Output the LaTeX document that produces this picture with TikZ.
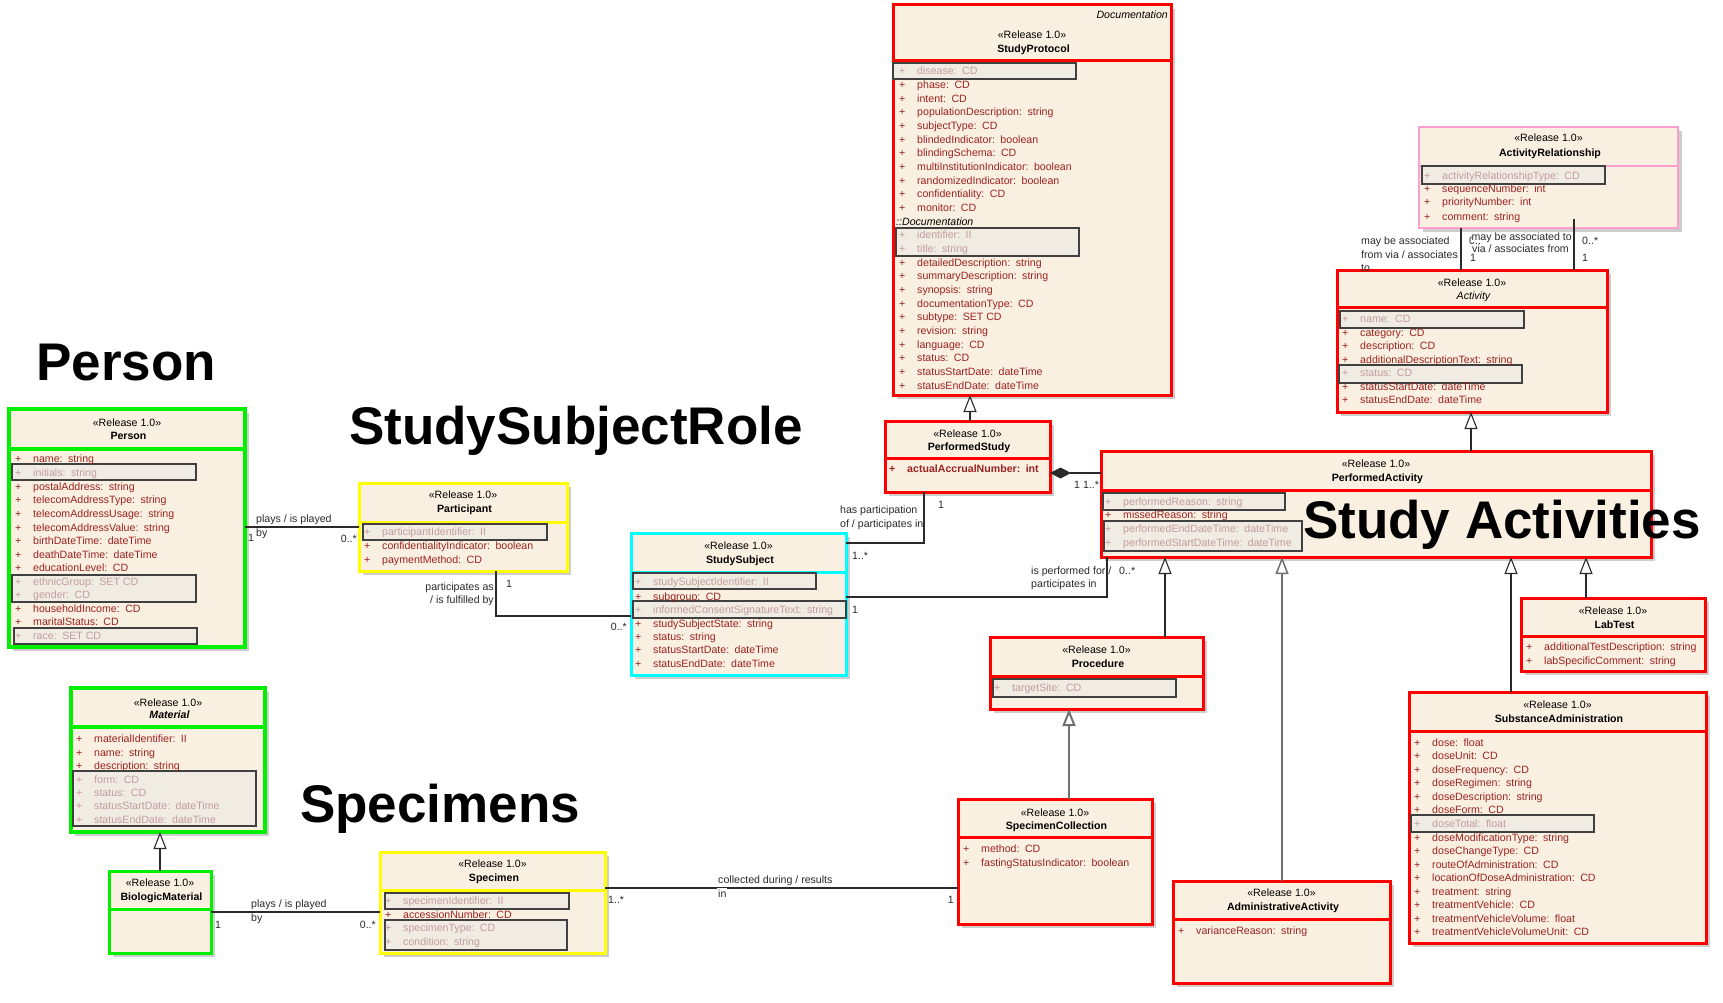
\documentclass[tikz,border=0pt]{standalone}
\usepackage{fontspec}
\setmainfont{Liberation Sans}
\usetikzlibrary{arrows.meta}
\definecolor{beige}{HTML}{FAF0E1}
\definecolor{shadowc}{HTML}{CDCDCD}
\definecolor{greybox}{HTML}{F0ECE3}
\definecolor{gboxline}{HTML}{404040}
\definecolor{attrred}{HTML}{9C2222}
\definecolor{attrgrey}{HTML}{C49C9C}
\definecolor{umlred}{HTML}{FF0000}
\definecolor{umlgreen}{HTML}{00F000}
\definecolor{umlyellow}{HTML}{FFFF00}
\definecolor{umlcyan}{HTML}{00FFFF}
\definecolor{umlpink}{HTML}{FF9FCF}
\definecolor{lnc}{HTML}{2A2A2A}
\definecolor{lng}{HTML}{707070}
\newcounter{nn}
\newcommand\fs{\fontsize{10.6}{12}\selectfont}
\tikzset{
  hdr/.style={font=\fs, inner sep=0pt, anchor=base, text=black},
  attr/.style={font=\fs, text=attrred, inner sep=0pt, anchor=base west},
  gattr/.style={attr, text=attrgrey},
  lbl/.style={font=\fs, inner sep=0pt, anchor=base west, text=lnc},
  lble/.style={lbl, anchor=base east},
  conn/.style={draw=lnc, line width=1.1pt},
  gen/.style={conn, -{Triangle[length=17pt,width=13pt,fill=white]}},
  big/.style={font=\fontsize{53}{60}\selectfont\bfseries, inner sep=0pt, anchor=base west, text=black},
  gbox/.style={draw=gboxline, fill=greybox, line width=1.2pt},
}
% name, x1, y1, x2, y2, separator y, colour, line width
\newcommand\uclass[8]{%
  \fill[shadowc] ({#2+4},{#3+4}) rectangle ({#4+4},{#5+4});
  \node[draw=#7, line width=#8, fill=beige, inner sep=0pt, outer sep=0pt,
        minimum width={(#4)-(#2)}, minimum height={(#5)-(#3)}, anchor=north west] (#1) at (#2,#3) {};
  \draw[#7, line width=#8] (#2,#6) -- (#4,#6);}
% centre x, stereotype y, name y, name, font switch
\newcommand\uhead[5]{%
  \stepcounter{nn}\node[hdr] (n\arabic{nn}) at (#1,{#2+4}) {«Release 1.0»};
  \stepcounter{nn}\node[hdr] (n\arabic{nn}) at (#1,{#3+4}) {#5 #4};}
\newcommand\ua[4]{%
  \stepcounter{nn}\node[attr] (n\arabic{nn}) at ({#1-18},{#2+4}) {+};
  \stepcounter{nn}\node[attr] (n\arabic{nn}) at (#1,{#2+4}) {#3:\hspace{5.5pt}#4};}
\newcommand\ug[4]{%
  \stepcounter{nn}\node[gattr] (n\arabic{nn}) at ({#1-18},{#2+4}) {+};
  \stepcounter{nn}\node[gattr] (n\arabic{nn}) at (#1,{#2+4}) {#3:\hspace{5.5pt}#4};}
\newcommand\gb[4]{\draw[gbox] (#1,#2) rectangle (#3,#4);}
\begin{document}
\begin{tikzpicture}[x=1pt,y=-1pt]
\fill[white] (0,0) rectangle (1723,1003);
\useasboundingbox (0,0) rectangle (1723,1003);

% ---------------- StudyProtocol
\uclass{sp}{893}{5}{1171}{395}{61}{umlred}{3pt}
\node[hdr, anchor=base east] (docl) at (1168,19) {\itshape Documentation};
\uhead{1032}{35}{49}{StudyProtocol}{\bfseries}
\gb{893}{63}{1076}{79}
\ug{917}{71}{disease}{CD}
\ua{917}{84.7}{phase}{CD}
\ua{917}{98.3}{intent}{CD}
\ua{917}{112}{populationDescription}{string}
\ua{917}{125.6}{subjectType}{CD}
\ua{917}{139.3}{blindedIndicator}{boolean}
\ua{917}{152.9}{blindingSchema}{CD}
\ua{917}{166.6}{multiInstitutionIndicator}{boolean}
\ua{917}{180.2}{randomizedIndicator}{boolean}
\ua{917}{193.9}{confidentiality}{CD}
\ua{917}{207.5}{monitor}{CD}
\node[hdr, anchor=base west] (docsep) at (896,225.2) {\itshape ::Documentation};
\gb{896}{228}{1079}{256}
\ug{917}{234.8}{identifier}{II}
\ug{917}{248.5}{title}{string}
\ua{917}{262.1}{detailedDescription}{string}
\ua{917}{275.8}{summaryDescription}{string}
\ua{917}{289.4}{synopsis}{string}
\ua{917}{303.1}{documentationType}{CD}
\ua{917}{316.7}{subtype}{SET CD}
\ua{917}{330.4}{revision}{string}
\ua{917}{344}{language}{CD}
\ua{917}{357.7}{status}{CD}
\ua{917}{371.3}{statusStartDate}{dateTime}
\ua{917}{385}{statusEndDate}{dateTime}

% ---------------- ActivityRelationship
\uclass{ar}{1419}{127}{1678}{228}{166}{umlpink}{1.2pt}
\uhead{1548.5}{138}{153}{ActivityRelationship}{\bfseries}
\gb{1422}{166}{1605}{184}
\ug{1442}{175}{activityRelationshipType}{CD}
\ua{1442}{189}{sequenceNumber}{int}
\ua{1442}{202}{priorityNumber}{int}
\ua{1442}{216}{comment}{string}

% ---------------- Activity
\uclass{act}{1337}{270}{1607}{412}{307}{umlred}{3pt}
\uhead{1472}{282}{295}{Activity}{\itshape}
\gb{1340}{311}{1524}{328}
\gb{1339}{365}{1522}{383}
\ug{1360}{318}{name}{CD}
\ua{1360}{332}{category}{CD}
\ua{1360}{345}{description}{CD}
\ua{1360}{359}{additionalDescriptionText}{string}
\ug{1360}{372}{status}{CD}
\ua{1360}{386}{statusStartDate}{dateTime}
\ua{1360}{399}{statusEndDate}{dateTime}

% ---------------- Person
\uclass{per}{9}{409}{245}{647}{449}{umlgreen}{4pt}
\uhead{127}{422}{435}{Person}{\bfseries}
\gb{12}{464}{196}{480}
\gb{12}{575}{196}{602}
\gb{14}{628}{197}{644}
\ua{33}{458}{name}{string}
\ug{33}{472}{initials}{string}
\ua{33}{486}{postalAddress}{string}
\ua{33}{499}{telecomAddressType}{string}
\ua{33}{513}{telecomAddressUsage}{string}
\ua{33}{527}{telecomAddressValue}{string}
\ua{33}{540}{birthDateTime}{dateTime}
\ua{33}{554}{deathDateTime}{dateTime}
\ua{33}{567}{educationLevel}{CD}
\ug{33}{581}{ethnicGroup}{SET CD}
\ug{33}{594}{gender}{CD}
\ua{33}{608}{householdIncome}{CD}
\ua{33}{621}{maritalStatus}{CD}
\ug{33}{635}{race}{SET CD}

% ---------------- Participant
\uclass{par}{359}{483}{567}{571}{522}{umlyellow}{3pt}
\uhead{463}{494}{508}{Participant}{\bfseries}
\gb{363}{524}{547}{540}
\ug{382}{531}{participantIdentifier}{II}
\ua{382}{545}{confidentialityIndicator}{boolean}
\ua{382}{559}{paymentMethod}{CD}

% ---------------- StudySubject
\uclass{ss}{631}{533}{846}{675}{572}{umlcyan}{3pt}
\uhead{738.5}{545}{559}{StudySubject}{\bfseries}
\gb{633}{573}{816}{589}
\gb{633}{601}{846}{618}
\ug{653}{581}{studySubjectIdentifier}{II}
\ua{653}{596}{subgroup}{CD}
\ug{653}{609}{informedConsentSignatureText}{string}
\ua{653}{623}{studySubjectState}{string}
\ua{653}{636}{status}{string}
\ua{653}{649}{statusStartDate}{dateTime}
\ua{653}{663}{statusEndDate}{dateTime}

% ---------------- PerformedStudy
\uclass{ps}{885}{421}{1050}{492}{458}{umlred}{3pt}
\uhead{967.5}{433}{446}{PerformedStudy}{\bfseries}
\node[attr, font=\fs\bfseries] (psp) at (889,472) {+};
\node[attr, font=\fs\bfseries] (psa) at (907,472) {actualAccrualNumber:\hspace{5.5pt}int};

% ---------------- PerformedActivity
\uclass{pa}{1101}{451}{1651}{557}{490}{umlred}{3pt}
\uhead{1376}{463}{477}{PerformedActivity}{\bfseries}
\gb{1103}{493}{1285}{510}
\gb{1104}{521}{1302}{551}
\ug{1123}{501}{performedReason}{string}
\ua{1123}{514}{missedReason}{string}
\ug{1123}{528}{performedEndDateTime}{dateTime}
\ug{1123}{542}{performedStartDateTime}{dateTime}

% ---------------- Material
\uclass{mat}{71}{688}{265}{832}{727}{umlgreen}{4pt}
\uhead{168}{702}{714}{Material}{\bfseries\itshape}
\gb{73}{771}{256}{826}
\ua{94}{738}{materialIdentifier}{II}
\ua{94}{752}{name}{string}
\ua{94}{765}{description}{string}
\ug{94}{779}{form}{CD}
\ug{94}{792}{status}{CD}
\ug{94}{805}{statusStartDate}{dateTime}
\ug{94}{819}{statusEndDate}{dateTime}

% ---------------- BiologicMaterial
\uclass{bio}{109}{871}{211}{953}{909}{umlgreen}{3pt}
\uhead{160}{882}{896}{BiologicMaterial}{\bfseries}

% ---------------- Specimen
\uclass{spe}{380}{852}{605}{953}{890}{umlyellow}{3pt}
\uhead{492.5}{863}{877}{Specimen}{\bfseries}
\gb{385}{893}{569}{909}
\gb{385}{920}{567}{950}
\ug{403}{900}{specimenIdentifier}{II}
\ua{403}{914}{accessionNumber}{CD}
\ug{403}{927}{specimenType}{CD}
\ug{403}{941}{condition}{string}

% ---------------- SpecimenCollection
\uclass{sc}{958}{799}{1152}{924}{837}{umlred}{3pt}
\uhead{1055}{812}{825}{SpecimenCollection}{\bfseries}
\ua{981}{848}{method}{CD}
\ua{981}{862}{fastingStatusIndicator}{boolean}

% ---------------- Procedure
\uclass{pro}{990}{637}{1203}{709}{676}{umlred}{3pt}
\uhead{1096.5}{649}{663}{Procedure}{\bfseries}
\gb{993}{679}{1176}{697}
\ug{1012}{687}{targetSite}{CD}

% ---------------- AdministrativeActivity
\uclass{aa}{1173}{881}{1390}{983}{919}{umlred}{3pt}
\uhead{1281.5}{892}{906}{AdministrativeActivity}{\bfseries}
\ua{1196}{930}{varianceReason}{string}

% ---------------- LabTest
\uclass{lt}{1521}{598}{1705}{671}{636}{umlred}{3pt}
\uhead{1613}{610}{624}{LabTest}{\bfseries}
\ua{1544}{646}{additionalTestDescription}{string}
\ua{1544}{660}{labSpecificComment}{string}

% ---------------- SubstanceAdministration
\uclass{sa}{1409}{692}{1706}{943}{731}{umlred}{3pt}
\uhead{1557.5}{704}{718}{SubstanceAdministration}{\bfseries}
\gb{1411}{815}{1594}{832}
\ua{1432}{742}{dose}{float}
\ua{1432}{755}{doseUnit}{CD}
\ua{1432}{769}{doseFrequency}{CD}
\ua{1432}{782}{doseRegimen}{string}
\ua{1432}{796}{doseDescription}{string}
\ua{1432}{809}{doseForm}{CD}
\ug{1432}{823}{doseTotal}{float}
\ua{1432}{837}{doseModificationType}{string}
\ua{1432}{850}{doseChangeType}{CD}
\ua{1432}{864}{routeOfAdministration}{CD}
\ua{1432}{877}{locationOfDoseAdministration}{CD}
\ua{1432}{891}{treatment}{string}
\ua{1432}{904}{treatmentVehicle}{CD}
\ua{1432}{918}{treatmentVehicleVolume}{float}
\ua{1432}{931}{treatmentVehicleVolumeUnit}{CD}

% ================= connectors
% Person -- Participant
\draw[conn] (per.east |- 0,527) -- (par.west |- 0,527);
\node[lbl] (l1a) at (256,522) {plays / is played};
\node[lbl] (l1b) at (256,536) {by};
\node[lbl] (l1c) at (248,541) {1};
\node[lble] (l1d) at (357,542) {0..*};

% Participant -- StudySubject
\draw[conn] (par.south -| 496,0) |- (ss.west |- 0,616);
\node[lble] (l2a) at (494,590) {participates as};
\node[lble] (l2b) at (494,603) {/ is fulfilled by};
\node[lbl] (l2c) at (506,587) {1};
\node[lble] (l2d) at (627,630) {0..*};

% StudySubject -- PerformedStudy
\draw[conn] (ss.east |- 0,543) -| (ps.south -| 924,0);
\node[lbl] (l3a) at (840,513) {has participation};
\node[lbl] (l3b) at (840,527) {of / participates in};
\node[lbl] (l3c) at (938,508) {1};
\node[lbl] (l3d) at (852,559) {1..*};

% StudySubject -- PerformedActivity
\draw[conn] (ss.east |- 0,597) -| (pa.south -| 1107,0);
\node[lbl] (l4a) at (1031,574) {is performed for /};
\node[lbl] (l4b) at (1031,587) {participates in};
\node[lbl] (l4c) at (1119,574) {0..*};
\node[lbl] (l4d) at (852,613) {1};

% PerformedStudy <>-- PerformedActivity
\draw[conn, -{Diamond[length=21pt,width=11pt]}] (pa.west |- 0,473) -- (ps.east |- 0,473);
\node[lbl] (l5a) at (1074,488) {1 1..*};

% ActivityRelationship -- Activity
\draw[conn] (ar.south -| 1461,0) -- (act.north -| 1461,0);
\draw[conn] (ar.south -| 1574,0) ++(0,-9) -- (act.north -| 1574,0);
\node[lbl] (l6a) at (1361,244) {may be associated};
\node[lbl] (l6b) at (1361,258) {from via / associates};
\node[lbl] (l6c) at (1361,271) {to};
\node[lbl] (l6d) at (1469,244) {0..*};
\node[lbl] (l6e) at (1470,261) {1};
\node[lble, fill=white] (l6f) at (1572,240) {may be associated to};
\node[lble, fill=white] (l6g) at (1569,252) {via / associates from};
\node[lbl] (l6h) at (1582,244) {0..*};
\node[lbl] (l6i) at (1582,261) {1};

% BiologicMaterial -- Specimen
\draw[conn] (bio.east |- 0,912) -- (spe.west |- 0,912);
\node[lbl] (l7a) at (251,907) {plays / is played};
\node[lbl] (l7b) at (251,921) {by};
\node[lbl] (l7c) at (215,928) {1};
\node[lble] (l7d) at (376,928) {0..*};

% Specimen -- SpecimenCollection
\draw[conn] (spe.east |- 0,888) -- (sc.west |- 0,888);
\node[lbl] (l8a) at (718,883) {collected during / results};
\node[lbl, fill=white, inner sep=1pt] (l8b) at (717,897) {in};
\node[lbl] (l8c) at (608,903) {1..*};
\node[lble] (l8d) at (954,903) {1};

% generalizations
\draw[gen] (ps.north -| 970,0) -- (sp.south -| 970,0);
\draw[gen] (pa.north -| 1471,0) -- (act.south -| 1471,0);
\draw[gen] (pro.north -| 1165,0) -- (pa.south -| 1165,0);
\draw[gen, draw=lng, line width=1.5pt] (aa.north -| 1282,0) -- (pa.south -| 1282,0);
\draw[gen] (sa.north -| 1511,0) -- (pa.south -| 1511,0);
\draw[gen] (lt.north -| 1586,0) -- (pa.south -| 1586,0);
\draw[gen, draw=lng, line width=2pt] (sc.north -| 1069,0) -- (pro.south -| 1069,0);
\draw[gen] (bio.north -| 160,0) -- (mat.south -| 160,0);

% ================= big headings
\node[big] (hPerson) at (36,380) {Person};
\node[big] (hSSR) at (349,444) {StudySubjectRole};
\node[big] (hSA) at (1303,538) {Study Activities};
\node[big] (hSpec) at (300,822) {Specimens};
\end{tikzpicture}
\end{document}
